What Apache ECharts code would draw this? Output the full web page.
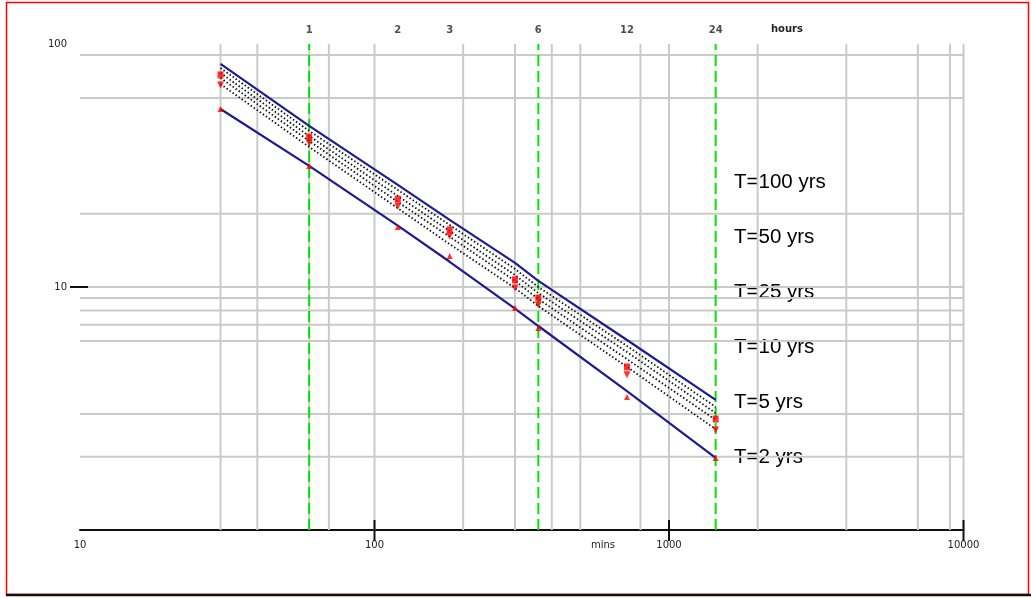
<!DOCTYPE html>
<html>
<head>
<meta charset="utf-8">
<script src="https://cdn.jsdelivr.net/npm/echarts@6/dist/echarts.min.js"></script>
<style>
  html, body { margin: 0; padding: 0; background: #ffffff; }
  #chart { width: 1031px; height: 598px; }
</style>
</head>
<body>
<div id="chart"></div>
<script>
// Storm durations (minutes) at which the intensity curves are evaluated
const durations = [30, 60, 120, 180, 300, 360, 720, 1440];

// Fitted intensity curves (mm/hr) per return period
const t100 = [82.8, 46.0, 26.3, 18.9, 12.56, 10.59, 6.05, 3.43];
const t50  = [79.6, 43.9, 25.1, 18.0, 11.86, 10.0, 5.72, 3.21];
const t25  = [76.0, 41.8, 23.7, 17.0, 11.2, 9.45, 5.40, 3.03];
const t10  = [72.5, 39.9, 22.4, 16.1, 10.6, 8.92, 5.05, 2.84];
const t5   = [68.4, 37.7, 21.1, 15.0, 9.9, 8.35, 4.69, 2.60];
const t2   = [54.0, 31.5, 17.9, 12.7, 8.15, 6.91, 3.73, 1.98];

// Observed point intensities
const obsSquare = [74.6, 41.4, 23.0, 17.2, 10.7, 9.01, 4.69, 2.86];
const obsDown   = [67.8, 39.1, 21.5, 16.2, 9.9, 8.43, 4.35, 2.58];
const obsT2     = [54.0, 31.5, 17.66, 13.42, 8.20, 6.78, 3.53, 1.98];

// Grid and reference lines
const xGridValues = [30, 40, 60, 70, 100, 200, 300, 400, 500, 800, 1000, 2000, 4000, 7000, 9000, 10000];
const yGridValues = [90, 60, 20, 10, 9, 8, 7, 6, 3, 2];
const hourMarks = [1, 2, 3, 6, 12, 24];
const greenHours = [1, 6, 24];
const xTickValues = [100, 1000, 10000];
const yTickValues = [10];
const xLabelValues = [10, 100, 1000, 10000];
const yLabelValues = [10, 100];
const curveLabels = ['T=100 yrs', 'T=50 yrs', 'T=25 yrs', 'T=10 yrs', 'T=5 yrs', 'T=2 yrs'];

const pairs = arr => durations.map((d, i) => [d, arr[i]]);
const smallFont = "'DejaVu Sans', sans-serif";

const chart = echarts.init(document.getElementById('chart'), null, { renderer: 'canvas' });

function lineSeries(name, values, color, width, type, z) {
  return {
    name, type: 'line', data: pairs(values), symbol: 'none', z,
    lineStyle: { color, width, type }, silent: true, animation: false
  };
}
function markerSeries(name, values, symbol, size, rotate) {
  return {
    name, type: 'scatter', data: pairs(values), symbol, symbolSize: size,
    symbolRotate: rotate || 0, itemStyle: { color: '#ff0000' }, z: 6, silent: true, animation: false
  };
}

const option = {
  backgroundColor: '#ffffff',
  animation: false,
  grid: { left: 80, right: 67.5, top: 44, bottom: 68 },
  xAxis: {
    type: 'log', logBase: 10, min: 10, max: 10000,
    axisLine: { show: true, lineStyle: { color: '#111', width: 2 } },
    axisTick: { show: false },
    splitLine: { show: false },
    axisLabel: {
      margin: 10, fontSize: 10, color: '#222', fontFamily: smallFont,
      formatter: v => (xLabelValues.indexOf(v) >= 0 ? String(v) : '')
    }
  },
  yAxis: {
    type: 'log', logBase: 10, min: 1, max: 100,
    axisLine: { show: false },
    axisTick: { show: false },
    splitLine: { show: false },
    axisLabel: {
      margin: 13, fontSize: 10, color: '#222', fontFamily: smallFont,
      formatter: v => (yLabelValues.indexOf(v) >= 0 ? String(v) : '')
    }
  },
  series: [
    { // vertical grid lines
      type: 'custom', z: 1, silent: true, data: xGridValues.map(v => [v]),
      renderItem: (params, api) => {
        const a = api.coord([api.value(0), 1]);
        const b = api.coord([api.value(0), 100]);
        return { type: 'line', shape: { x1: a[0], y1: a[1], x2: b[0], y2: b[1] },
                 style: { stroke: '#cacaca', lineWidth: 2 } };
      }
    },
    { // horizontal grid lines
      type: 'custom', z: 1, silent: true, data: yGridValues.map(v => [v]),
      renderItem: (params, api) => {
        const a = api.coord([10, api.value(0)]);
        const b = api.coord([10000, api.value(0)]);
        return { type: 'line', shape: { x1: a[0], y1: a[1], x2: b[0], y2: b[1] },
                 style: { stroke: '#cacaca', lineWidth: 2 } };
      }
    },
    { // dashed green duration markers
      type: 'custom', z: 2, silent: true, data: greenHours.map(h => [h * 60]),
      renderItem: (params, api) => {
        const a = api.coord([api.value(0), 1]);
        const b = api.coord([api.value(0), 100]);
        return { type: 'line', shape: { x1: a[0], y1: a[1], x2: b[0], y2: b[1] },
                 style: { stroke: '#00e600', lineWidth: 2, lineDash: [11, 5] } };
      }
    },
    { // x-axis ticks crossing the axis line
      type: 'custom', z: 7, silent: true, data: xTickValues.map(v => [v]),
      renderItem: (params, api) => {
        const p = api.coord([api.value(0), 1]);
        return { type: 'line', shape: { x1: p[0], y1: p[1] - 10, x2: p[0], y2: p[1] + 11 },
                 style: { stroke: '#111', lineWidth: 2 } };
      }
    },
    { // y-axis tick
      type: 'custom', z: 7, silent: true, data: yTickValues.map(v => [v]),
      renderItem: (params, api) => {
        const p = api.coord([10, api.value(0)]);
        return { type: 'line', shape: { x1: p[0] - 10, y1: p[1], x2: p[0] + 8, y2: p[1] },
                 style: { stroke: '#111', lineWidth: 2 } };
      }
    },
    { // hour labels along the top
      type: 'scatter', z: 7, silent: true, symbolSize: 0,
      data: hourMarks.map(h => ({ value: [h * 60, 100], hour: h })),
      label: {
        show: true, position: 'top', distance: 9, fontSize: 10, color: '#222',
        fontFamily: smallFont, fontWeight: 'bold',
        formatter: p => String(hourMarks[p.dataIndex])
      }
    },
    lineSeries('T=50', t50, '#111111', 1.8, [1.5, 2.2], 3),
    lineSeries('T=25', t25, '#111111', 1.8, [1.5, 2.2], 3),
    lineSeries('T=10', t10, '#111111', 1.8, [1.5, 2.2], 3),
    lineSeries('T=5', t5, '#111111', 1.8, [1.5, 2.2], 3),
    lineSeries('T=100', t100, '#1c1c90', 2.2, 'solid', 4),
    lineSeries('T=2', t2, '#1c1c90', 2.2, 'solid', 4),
    markerSeries('obs square', obsSquare, 'rect', [6, 7]),
    markerSeries('obs down', obsDown, 'triangle', 7, 180),
    markerSeries('obs T=2', obsT2, 'triangle', 6)
  ],
  graphic: [
    { type: 'rect', silent: true, z: 0,
      shape: { x: 6.5, y: 2.5, width: 1022, height: 592 },
      style: { fill: 'none', stroke: '#ff0000', lineWidth: 1.5 } },
    { type: 'line', silent: true, z: 10,
      shape: { x1: 6, y1: 595, x2: 1031, y2: 595 },
      style: { stroke: '#111', lineWidth: 2.5 } },
    { type: 'text', silent: true, left: 771, top: 24,
      style: { text: 'hours', fontSize: 10, fontWeight: 'bold', fontFamily: smallFont, fill: '#222' } },
    { type: 'text', silent: true, left: 591, top: 540,
      style: { text: 'mins', fontSize: 10, fontFamily: smallFont, fill: '#222' } }
  ].concat(curveLabels.map((t, i) => ({
    type: 'text', silent: true, left: 734, top: 172 + i * 55,
    style: { text: t, fontSize: 20.5, fontFamily: "'Liberation Sans', Arial, sans-serif", fill: '#000' }
  })))
};

chart.setOption(option);
</script>
</body>
</html>
